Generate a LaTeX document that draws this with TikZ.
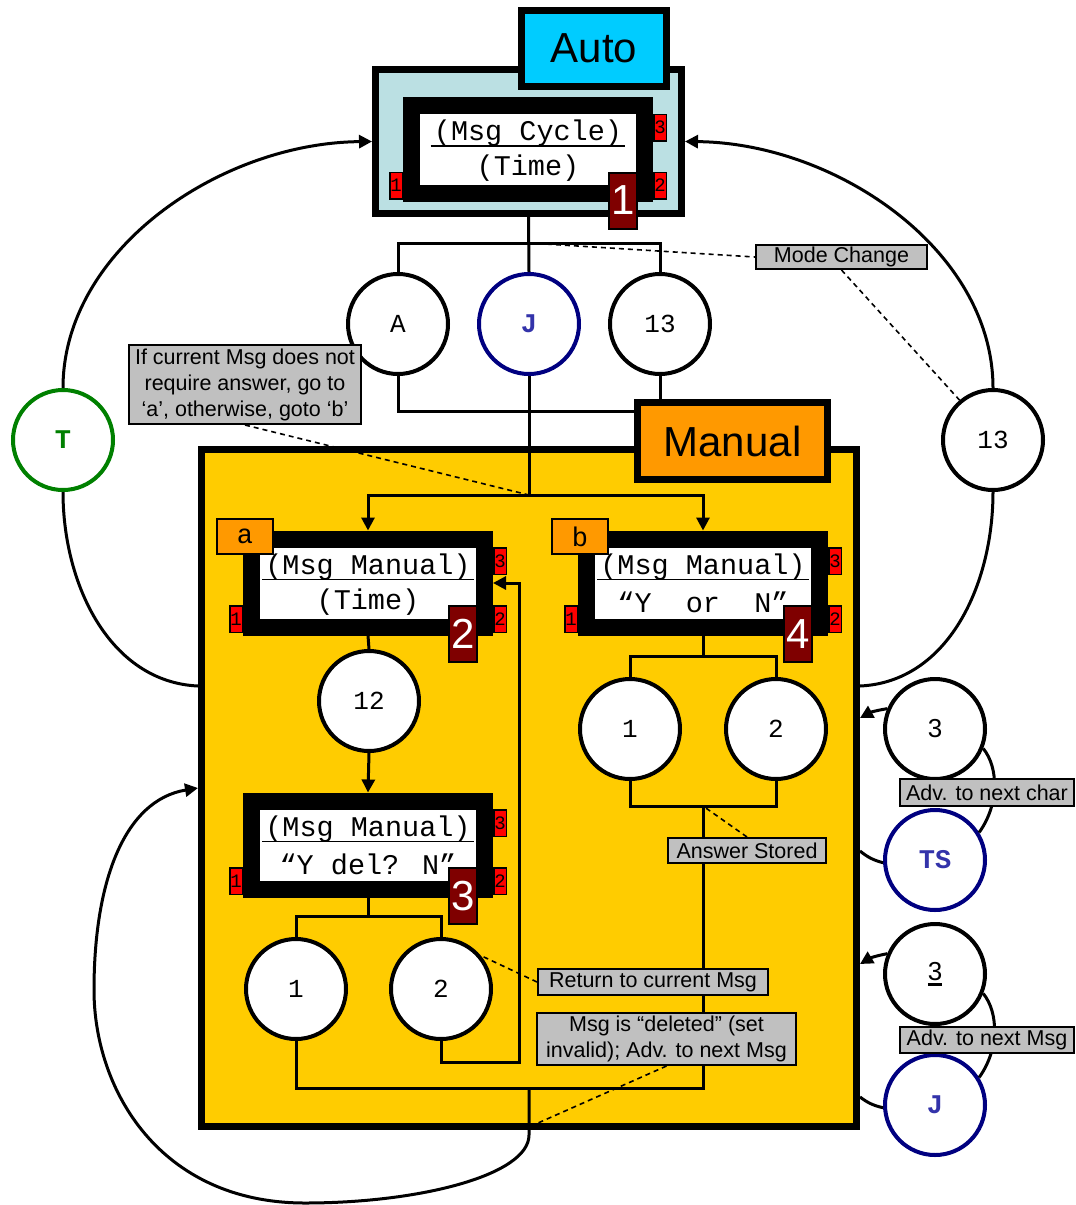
\documentclass[tikz,border=0pt]{standalone}
\usepackage{fontspec}
\setmainfont{Liberation Sans}
\newfontfamily\monofam{Liberation Mono}
\usetikzlibrary{arrows.meta}

\definecolor{autofill}{HTML}{BBE0E3}
\definecolor{autotab}{HTML}{00CCFF}
\definecolor{taborange}{HTML}{FF9900}
\definecolor{manfill}{HTML}{FFCC00}
\definecolor{notefill}{HTML}{C0C0C0}
\definecolor{numred}{HTML}{7F0000}
\definecolor{keynavy}{HTML}{000080}
\definecolor{keyblue}{HTML}{3333AA}
\definecolor{keygreen}{HTML}{008000}

\tikzset{
  modebox/.style={draw,line width=7pt,inner sep=0pt},
  modetab/.style={draw,line width=7pt,inner sep=0pt,font=\fontsize{42pt}{46pt}\selectfont},
  lcd/.style={draw,fill=white,line width=17pt,minimum width=233pt,minimum height=88pt,inner sep=0pt},
  lcdtext/.style={inner sep=0pt,font=\fontsize{28.5pt}{32pt}\selectfont\monofam},
  keytag/.style={fill=red,draw,line width=1.5pt,minimum width=12.5pt,minimum height=26.5pt,inner sep=0pt,font=\fontsize{19pt}{20pt}\selectfont\monofam},
  stepno/.style={fill=numred,draw,line width=2pt,minimum width=28pt,minimum height=56pt,inner sep=0pt,text=white,font=\fontsize{42pt}{44pt}\selectfont},
  subtab/.style={fill=taborange,draw,line width=2pt,minimum width=56pt,minimum height=35pt,inner sep=0pt,font=\fontsize{27pt}{28pt}\selectfont\monofam},
  place/.style={circle,draw,fill=white,line width=4pt,minimum size=100pt,inner sep=0pt,font=\fontsize{26pt}{28pt}\selectfont\monofam},
  keyplace/.style={place,draw=keynavy,text=keyblue,font=\fontsize{27pt}{28pt}\selectfont\monofam\bfseries},
  note/.style={draw,fill=notefill,line width=2pt,inner sep=0pt,align=center,font=\fontsize{21.5pt}{26pt}\selectfont},
  wire/.style={line width=3pt},
  arr/.style={line width=3pt,-{Triangle[length=13pt,width=13pt]}},
  hint/.style={line width=1.6pt,dash pattern=on 5pt off 4pt},
}

% message display: frame, two text lines with a rule, key tags 1/2/3, step number
\newcommand\lcdpanel[6]{%
  \node[lcd] (#1) at (#2,#3) {};
  \node[lcdtext] (#1-top) at ([yshift=16pt]#1.center) {#4};
  \node[lcdtext] (#1-bot) at ([yshift=-19pt]#1.center) {#5};
  \coordinate (#1-rule) at ([yshift=3.5pt]#1.center);
  \draw[line width=1.5pt] ([xshift=-3pt]#1-top.west |- #1-rule) -- ([xshift=3pt]#1-top.east |- #1-rule);
  \node[keytag] (#1-k1) at ([xshift=-7pt,yshift=-36pt]#1.west) {1};
  \node[keytag] (#1-k3) at ([xshift=7pt,yshift=22pt]#1.east) {3};
  \node[keytag] (#1-k2) at ([xshift=7pt,yshift=-36pt]#1.east) {2};
  \node[stepno] (#1-no) at ([xshift=95pt,yshift=-51pt]#1.center) {#6};
}

\begin{document}
\begin{tikzpicture}[x=1pt,y=-1pt]
\useasboundingbox (0,0) rectangle (1076,1205);

% ---------- Auto mode ----------
\node[modebox,fill=autofill,minimum width=306pt,minimum height=144pt] (autobox) at (528.5,141.5) {};
\node[modetab,fill=autotab,minimum width=145pt,minimum height=76pt] (autotab) at (594,48.5) {Auto};
\lcdpanel{lcdAuto}{528}{149.5}{(Msg Cycle)}{(Time)}{1}

% ---------- Manual mode ----------
\node[modebox,fill=manfill,minimum width=655pt,minimum height=677pt] (manbox) at (529,788) {};

\lcdpanel{lcdA}{368}{583}{(Msg Manual)}{(Time)}{2}
\lcdpanel{lcdB}{703}{583}{(Msg Manual)}{“Y\ \ or\ \ N”}{4}
\lcdpanel{lcdD}{368}{845}{(Msg Manual)}{“Y del? N”}{3}
\node[subtab] (tabA) at (245,536.5) {a};
\node[subtab] (tabB) at (580,536.5) {b};

% ---------- key circles ----------
\node[place] (A) at (398,324) {A};
\node[keyplace] (J) at (529,324) {J};
\node[place] (c13) at (660,324) {13};
\node[place,draw=keygreen,text=keygreen,font=\fontsize{27pt}{28pt}\selectfont\monofam\bfseries] (T) at (63,440) {T};
\node[place] (c13r) at (993,440) {13};
\node[place] (c12) at (369,701) {12};
\node[place] (b1) at (630,729) {1};
\node[place] (b2) at (776,729) {2};
\node[place] (d1) at (296,989) {1};
\node[place] (d2) at (441,989) {2};
\node[place,font=\fontsize{26pt}{28pt}\selectfont] (s3) at (935,729) {3};
\node[keyplace] (TS) at (935,860) {TS};
\node[place,font=\fontsize{26pt}{28pt}\selectfont] (s3b) at (935,974) {\makebox[0pt][l]{\rule[-5pt]{14.5pt}{2.2pt}}3};
\node[keyplace] (sJ) at (935,1105) {J};

% ---------- junctions and free ends ----------
\coordinate (jt) at (529,243);
\coordinate (aj) at (398,411);
\coordinate (jn) at (529,495);
\coordinate (dj) at (368,916);
\coordinate (rr) at (519,1062);
\coordinate (bj) at (703,656);
\coordinate (bk) at (703,806);
\coordinate (bot) at (703,1088);
\coordinate (lj) at (529,1088);
\coordinate (mIn) at (198,788);
\coordinate (mBot) at (529,1127);
\coordinate (mL) at (198,686);
\coordinate (mR) at (860,686);
\coordinate (mR3) at (860,718);
\coordinate (mRts) at (860,851);
\coordinate (mR3b) at (860,964);
\coordinate (mRj) at (860,1097);

% ---------- connectors ----------
\draw[wire] (autobox.south) -- (J.north);
\draw[wire] (A.north) |- (jt) -| (c13.north);
\draw[wire] (A.south) |- (aj) -- (aj -| manbox.center) -- +(107,0);
\draw[wire] (c13.south) -- +(0,26);
\draw[wire] (J.south) -- (jn);
\draw[arr] (jn) -| (lcdA.north);
\draw[arr] (jn) -| (lcdB.north);

\draw[wire] (lcdA.south) -- (c12.north);
\draw[arr] (c12.south) -- (lcdD.north);
\draw[wire] (lcdD.south) -- (dj);
\draw[wire] (d1.north) |- (dj) -| (d2.north);
\draw[arr] (d2.south) |- (rr) |- (lcdA.east);

\draw[wire] (lcdB.south) -- (bj);
\draw[wire] (b1.north) |- (bj) -| (b2.north);
\draw[wire] (b1.south) |- (bk) -| (b2.south);
\draw[wire] (bk) -- (bot) -| (d1.south);
\draw[arr] (lj) -- (529,1135) .. controls (529,1175) and (420,1203) .. (305,1203)
  .. controls (160,1203) and (94,1090) .. (94,990)
  .. controls (94,880) and (125,800) .. (mIn);

% mode change arcs
\draw[wire] (mL) .. controls (110,682) and (63,585) .. (T.south);
\draw[arr] (T.north) .. controls (63,250) and (220,143) .. (autobox.west);
\draw[wire] (mR) .. controls (948,682) and (993,585) .. (c13r.south);
\draw[arr] (c13r.north) .. controls (993,250) and (836,143) .. (autobox.east);

% right-hand key loops
\draw[arr] (s3.157) to[bend right=10] (mR3);
\draw[wire] (s3.-22) .. controls (999,768) and (999,805) .. (TS.32);
\draw[wire] (TS.183) to[bend left=12] (mRts);
\draw[arr] (s3b.157) to[bend right=10] (mR3b);
\draw[wire] (s3b.-22) .. controls (999,1013) and (999,1050) .. (sJ.32);
\draw[wire] (sJ.183) to[bend left=12] (mRj);

% Manual tab sits on top of the incoming wires
\node[modetab,fill=taborange,minimum width=190pt,minimum height=77pt] (mantab) at (732.5,441) {Manual};

% ---------- notes ----------
\node[note,minimum width=171pt,minimum height=24pt] (modenote) at (841.5,257) {Mode Change};
\node[note,minimum width=232pt,minimum height=79pt] (ifnote) at (245,384.5) {If current Msg does not\\require answer, go to\\‘a’, otherwise, goto ‘b’};
\node[note,minimum width=158pt,minimum height=25pt] (ansnote) at (747,850.5) {Answer Stored};
\node[note,minimum width=230pt,minimum height=26pt] (retnote) at (653,982) {Return to current Msg};
\node[note,minimum width=259pt,minimum height=52pt] (delnote) at (666.5,1039) {Msg is “deleted” (set\\invalid); Adv. to next Msg};
\node[note,minimum width=174pt,minimum height=27pt] (charnote) at (987,792.5) {Adv. to next char};
\node[note,minimum width=174pt,minimum height=26pt] (msgnote) at (987,1039.5) {Adv. to next Msg};

\draw[hint] (jt) -- (modenote.west);
\draw[hint] (modenote.south) -- (c13r.130);
\draw[hint] (ifnote.south) -- (jn);
\draw[hint] (ansnote.north) -- (bk);
\draw[hint] (retnote.west) -- (d2.40);
\draw[hint] (delnote.south) -- (mBot);
\end{tikzpicture}
\end{document}
